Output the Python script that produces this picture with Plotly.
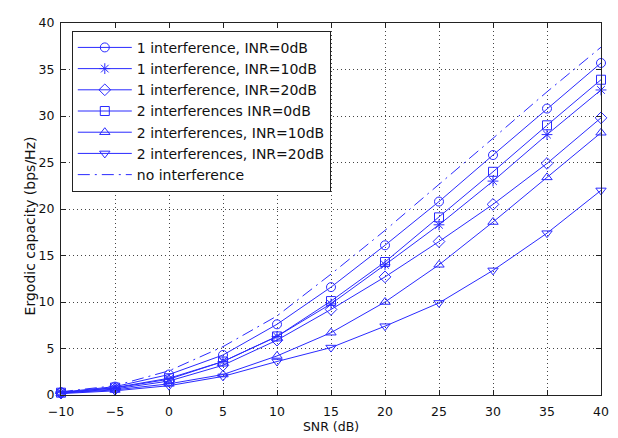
import plotly.graph_objects as go

snr = [-10, -5, 0, 5, 10, 15, 20, 25, 30, 35, 40]
one_inr0 = [0.3, 0.9, 2.2, 4.3, 7.6, 11.6, 16.1, 20.8, 25.8, 30.8, 35.7]
one_inr10 = [0.25, 0.75, 1.7, 3.6, 6.3, 9.8, 14.0, 18.3, 23.0, 28.0, 32.8]
one_inr20 = [0.2, 0.65, 1.5, 3.2, 5.9, 9.2, 12.7, 16.5, 20.5, 24.9, 29.8]
two_inr0 = [0.25, 0.8, 1.8, 3.6, 6.3, 10.1, 14.3, 19.1, 24.0, 29.0, 33.9]
two_inr10 = [0.2, 0.55, 1.2, 2.2, 4.2, 6.7, 10.0, 14.0, 18.6, 23.4, 28.2]
two_inr20 = [0.15, 0.45, 1.0, 2.0, 3.6, 5.1, 7.4, 9.9, 13.4, 17.4, 22.0]
no_interf = [0.35, 1.0, 2.6, 5.2, 8.5, 13.0, 17.7, 22.6, 27.6, 32.6, 37.4]

names = ["1 interference, INR=0dB", "1 interference, INR=10dB", "1 interference, INR=20dB",
         "2 interferences INR=0dB", "2 interferences, INR=10dB", "2 interferences, INR=20dB"]
series = [one_inr0, one_inr10, one_inr20, two_inr0, two_inr10, two_inr20]
symbols = ["circle-open", "asterisk-open", "diamond-open", "square-open",
           "triangle-up-open", "triangle-down-open"]

BLUE = "#2a2aff"
FONT = "DejaVu Sans"
fig = go.Figure()
for name, ys, sym in zip(names, series, symbols):
    fig.add_trace(go.Scatter(
        x=snr, y=ys, name=name, mode="lines+markers",
        line=dict(color=BLUE, width=1),
        marker=dict(symbol=sym, size=9, color=BLUE, line=dict(width=1, color=BLUE)),
        cliponaxis=False))
fig.add_trace(go.Scatter(
    x=snr, y=no_interf, name="no interference", mode="lines",
    line=dict(color=BLUE, width=1, dash="12px,5px,2px,5px"), cliponaxis=False))

axis_common = dict(
    showline=True, linecolor="#222", linewidth=1, mirror="ticks",
    ticks="inside", ticklen=5, tickcolor="#222",
    showgrid=True, gridcolor="#444", gridwidth=1, griddash="1px,3px",
    zeroline=False, tickfont=dict(family=FONT, size=12.5, color="#111"),
)
fig.update_xaxes(range=[-10, 40], dtick=5, tick0=-10, ticklabelstandoff=5,
                 title=dict(text="SNR (dB)", standoff=3,
                            font=dict(family=FONT, size=12.5, color="#111")),
                 **axis_common)
fig.update_yaxes(range=[0, 40], dtick=5, tick0=0, ticklabelstandoff=3, **axis_common)

fig.add_annotation(text="Ergodic capacity (bps/Hz)", textangle=-90,
                   xref="paper", yref="paper", x=-0.058, y=0.455,
                   xanchor="center", yanchor="middle", showarrow=False,
                   font=dict(family=FONT, size=14, color="#111"))

# page body has an 8px margin, so the figure is 8px smaller and margins shifted
fig.update_layout(
    width=610, height=430,
    margin=dict(l=53, r=17, t=7, b=39),
    paper_bgcolor="white", plot_bgcolor="white",
    showlegend=True,
    legend=dict(x=0.02, y=0.979, xanchor="left", yanchor="top",
                bgcolor="white", bordercolor="#222", borderwidth=1,
                font=dict(family=FONT, size=14, color="#111"),
                tracegroupgap=0, itemwidth=54),
)
fig.write_html("out.html")
